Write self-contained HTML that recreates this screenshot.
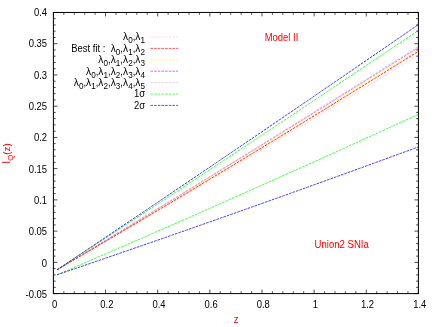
<!DOCTYPE html>
<html><head><meta charset="utf-8"><title>plot</title>
<style>html,body{margin:0;padding:0;background:#fff;}svg{display:block;}text{font-family:"Liberation Sans",sans-serif;}</style></head><body>
<svg width="436" height="327" viewBox="0 0 436 327" style="will-change:transform">
<rect x="0" y="0" width="436" height="327" fill="#fff"/>
<path d="M53.40 293.60v-4.00M53.40 12.45v4.00M63.83 293.60v-2.30M63.83 12.45v2.30M74.26 293.60v-2.30M74.26 12.45v2.30M84.69 293.60v-2.30M84.69 12.45v2.30M95.11 293.60v-2.30M95.11 12.45v2.30M105.54 293.60v-4.00M105.54 12.45v4.00M115.97 293.60v-2.30M115.97 12.45v2.30M126.40 293.60v-2.30M126.40 12.45v2.30M136.83 293.60v-2.30M136.83 12.45v2.30M147.26 293.60v-2.30M147.26 12.45v2.30M157.69 293.60v-4.00M157.69 12.45v4.00M168.11 293.60v-2.30M168.11 12.45v2.30M178.54 293.60v-2.30M178.54 12.45v2.30M188.97 293.60v-2.30M188.97 12.45v2.30M199.40 293.60v-2.30M199.40 12.45v2.30M209.83 293.60v-4.00M209.83 12.45v4.00M220.26 293.60v-2.30M220.26 12.45v2.30M230.69 293.60v-2.30M230.69 12.45v2.30M241.11 293.60v-2.30M241.11 12.45v2.30M251.54 293.60v-2.30M251.54 12.45v2.30M261.97 293.60v-4.00M261.97 12.45v4.00M272.40 293.60v-2.30M272.40 12.45v2.30M282.83 293.60v-2.30M282.83 12.45v2.30M293.26 293.60v-2.30M293.26 12.45v2.30M303.69 293.60v-2.30M303.69 12.45v2.30M314.11 293.60v-4.00M314.11 12.45v4.00M324.54 293.60v-2.30M324.54 12.45v2.30M334.97 293.60v-2.30M334.97 12.45v2.30M345.40 293.60v-2.30M345.40 12.45v2.30M355.83 293.60v-2.30M355.83 12.45v2.30M366.26 293.60v-4.00M366.26 12.45v4.00M376.69 293.60v-2.30M376.69 12.45v2.30M387.11 293.60v-2.30M387.11 12.45v2.30M397.54 293.60v-2.30M397.54 12.45v2.30M407.97 293.60v-2.30M407.97 12.45v2.30M418.40 293.60v-4.00M418.40 12.45v4.00M53.40 293.60h4.00M418.40 293.60h-4.00M53.40 287.35h2.30M418.40 287.35h-2.30M53.40 281.10h2.30M418.40 281.10h-2.30M53.40 274.86h2.30M418.40 274.86h-2.30M53.40 268.61h2.30M418.40 268.61h-2.30M53.40 262.36h4.00M418.40 262.36h-4.00M53.40 256.11h2.30M418.40 256.11h-2.30M53.40 249.87h2.30M418.40 249.87h-2.30M53.40 243.62h2.30M418.40 243.62h-2.30M53.40 237.37h2.30M418.40 237.37h-2.30M53.40 231.12h4.00M418.40 231.12h-4.00M53.40 224.87h2.30M418.40 224.87h-2.30M53.40 218.63h2.30M418.40 218.63h-2.30M53.40 212.38h2.30M418.40 212.38h-2.30M53.40 206.13h2.30M418.40 206.13h-2.30M53.40 199.88h4.00M418.40 199.88h-4.00M53.40 193.64h2.30M418.40 193.64h-2.30M53.40 187.39h2.30M418.40 187.39h-2.30M53.40 181.14h2.30M418.40 181.14h-2.30M53.40 174.89h2.30M418.40 174.89h-2.30M53.40 168.64h4.00M418.40 168.64h-4.00M53.40 162.40h2.30M418.40 162.40h-2.30M53.40 156.15h2.30M418.40 156.15h-2.30M53.40 149.90h2.30M418.40 149.90h-2.30M53.40 143.65h2.30M418.40 143.65h-2.30M53.40 137.41h4.00M418.40 137.41h-4.00M53.40 131.16h2.30M418.40 131.16h-2.30M53.40 124.91h2.30M418.40 124.91h-2.30M53.40 118.66h2.30M418.40 118.66h-2.30M53.40 112.41h2.30M418.40 112.41h-2.30M53.40 106.17h4.00M418.40 106.17h-4.00M53.40 99.92h2.30M418.40 99.92h-2.30M53.40 93.67h2.30M418.40 93.67h-2.30M53.40 87.42h2.30M418.40 87.42h-2.30M53.40 81.18h2.30M418.40 81.18h-2.30M53.40 74.93h4.00M418.40 74.93h-4.00M53.40 68.68h2.30M418.40 68.68h-2.30M53.40 62.43h2.30M418.40 62.43h-2.30M53.40 56.18h2.30M418.40 56.18h-2.30M53.40 49.94h2.30M418.40 49.94h-2.30M53.40 43.69h4.00M418.40 43.69h-4.00M53.40 37.44h2.30M418.40 37.44h-2.30M53.40 31.19h2.30M418.40 31.19h-2.30M53.40 24.95h2.30M418.40 24.95h-2.30M53.40 18.70h2.30M418.40 18.70h-2.30M53.40 12.45h4.00M418.40 12.45h-4.00" stroke="#000" stroke-width="0.7" fill="none"/>
<path d="M57.00 269.80Q237.70 165.35 418.40 55.30" stroke="#ffc8c8" stroke-width="0.7" stroke-dasharray="2.65 1.02" fill="none"/>
<path d="M57.00 269.80Q237.70 162.50 418.40 49.60" stroke="#ffff00" stroke-width="0.66" stroke-dasharray="2.65 1.02" fill="none"/>
<path d="M57.00 269.80Q237.70 161.00 418.40 47.60" stroke="#ff00ff" stroke-width="0.62" stroke-dasharray="2.65 1.02" fill="none"/>
<path d="M57.00 269.80Q237.70 160.50 418.40 46.40" stroke="#c0c0c0" stroke-width="0.75" stroke-dasharray="2.65 1.02" fill="none"/>
<path d="M57.00 269.80Q237.70 164.15 418.40 51.30" stroke="#ff0000" stroke-width="0.85" stroke-dasharray="2.65 1.02" fill="none"/>
<path d="M57.00 269.80Q237.70 152.30 418.40 30.40" stroke="#00ff00" stroke-width="0.8" stroke-dasharray="2.65 1.02" fill="none"/>
<path d="M57.00 274.80Q237.70 197.35 418.40 114.30" stroke="#00ff00" stroke-width="0.78" stroke-dasharray="2.65 1.02" fill="none"/>
<path d="M57.00 269.80Q237.70 149.20 418.40 24.60" stroke="#0000ff" stroke-width="0.8" stroke-dasharray="2.65 1.02" fill="none"/>
<path d="M57.00 274.80Q237.70 213.25 418.40 146.90" stroke="#0000ff" stroke-width="0.78" stroke-dasharray="2.65 1.02" fill="none"/>
<rect x="53.4" y="12.45" width="365.00" height="281.15" fill="none" stroke="#000" stroke-width="1.0"/>
<g font-size="11.0" fill="#000">
<text transform="translate(54.70 307.9) scale(0.86 1)" text-anchor="middle">0</text>
<text transform="translate(106.84 307.9) scale(0.86 1)" text-anchor="middle">0.2</text>
<text transform="translate(158.99 307.9) scale(0.86 1)" text-anchor="middle">0.4</text>
<text transform="translate(211.13 307.9) scale(0.86 1)" text-anchor="middle">0.6</text>
<text transform="translate(263.27 307.9) scale(0.86 1)" text-anchor="middle">0.8</text>
<text transform="translate(315.41 307.9) scale(0.86 1)" text-anchor="middle">1</text>
<text transform="translate(367.56 307.9) scale(0.86 1)" text-anchor="middle">1.2</text>
<text transform="translate(419.70 307.9) scale(0.86 1)" text-anchor="middle">1.4</text>
<text transform="translate(47.1 298.20) scale(0.86 1)" text-anchor="end">-0.05</text>
<text transform="translate(47.1 266.83) scale(0.86 1)" text-anchor="end">0</text>
<text transform="translate(47.1 235.46) scale(0.86 1)" text-anchor="end">0.05</text>
<text transform="translate(47.1 204.09) scale(0.86 1)" text-anchor="end">0.1</text>
<text transform="translate(47.1 172.72) scale(0.86 1)" text-anchor="end">0.15</text>
<text transform="translate(47.1 141.35) scale(0.86 1)" text-anchor="end">0.2</text>
<text transform="translate(47.1 109.98) scale(0.86 1)" text-anchor="end">0.25</text>
<text transform="translate(47.1 78.61) scale(0.86 1)" text-anchor="end">0.3</text>
<text transform="translate(47.1 47.24) scale(0.86 1)" text-anchor="end">0.35</text>
<text transform="translate(47.1 15.87) scale(0.86 1)" text-anchor="end">0.4</text>
</g>
<g font-size="11.0" fill="#000">
<text transform="translate(145.0 40.40) scale(0.86 1)" text-anchor="end" xml:space="preserve"><tspan font-size="11.8" letter-spacing="0.1">λ</tspan><tspan font-size="9.46" dy="3.0">0</tspan><tspan dy="-3.0">,</tspan><tspan font-size="11.8" letter-spacing="0.1">λ</tspan><tspan font-size="9.46" dy="3.0">1</tspan><tspan dy="-3.0"></tspan></text>
<text transform="translate(145.0 51.80) scale(0.86 1)" text-anchor="end" xml:space="preserve">Best fit :  <tspan font-size="11.8" letter-spacing="0.1">λ</tspan><tspan font-size="9.46" dy="3.0">0</tspan><tspan dy="-3.0">,</tspan><tspan font-size="11.8" letter-spacing="0.1">λ</tspan><tspan font-size="9.46" dy="3.0">1</tspan><tspan dy="-3.0">,</tspan><tspan font-size="11.8" letter-spacing="0.1">λ</tspan><tspan font-size="9.46" dy="3.0">2</tspan><tspan dy="-3.0"></tspan></text>
<text transform="translate(145.0 63.20) scale(0.86 1)" text-anchor="end" xml:space="preserve"><tspan font-size="11.8" letter-spacing="0.1">λ</tspan><tspan font-size="9.46" dy="3.0">0</tspan><tspan dy="-3.0">,</tspan><tspan font-size="11.8" letter-spacing="0.1">λ</tspan><tspan font-size="9.46" dy="3.0">1</tspan><tspan dy="-3.0">,</tspan><tspan font-size="11.8" letter-spacing="0.1">λ</tspan><tspan font-size="9.46" dy="3.0">2</tspan><tspan dy="-3.0">,</tspan><tspan font-size="11.8" letter-spacing="0.1">λ</tspan><tspan font-size="9.46" dy="3.0">3</tspan><tspan dy="-3.0"></tspan></text>
<text transform="translate(145.0 74.60) scale(0.86 1)" text-anchor="end" xml:space="preserve"><tspan font-size="11.8" letter-spacing="0.1">λ</tspan><tspan font-size="9.46" dy="3.0">0</tspan><tspan dy="-3.0">,</tspan><tspan font-size="11.8" letter-spacing="0.1">λ</tspan><tspan font-size="9.46" dy="3.0">1</tspan><tspan dy="-3.0">,</tspan><tspan font-size="11.8" letter-spacing="0.1">λ</tspan><tspan font-size="9.46" dy="3.0">2</tspan><tspan dy="-3.0">,</tspan><tspan font-size="11.8" letter-spacing="0.1">λ</tspan><tspan font-size="9.46" dy="3.0">3</tspan><tspan dy="-3.0">,</tspan><tspan font-size="11.8" letter-spacing="0.1">λ</tspan><tspan font-size="9.46" dy="3.0">4</tspan><tspan dy="-3.0"></tspan></text>
<text transform="translate(145.0 86.00) scale(0.86 1)" text-anchor="end" xml:space="preserve"><tspan font-size="11.8" letter-spacing="0.1">λ</tspan><tspan font-size="9.46" dy="3.0">0</tspan><tspan dy="-3.0">,</tspan><tspan font-size="11.8" letter-spacing="0.1">λ</tspan><tspan font-size="9.46" dy="3.0">1</tspan><tspan dy="-3.0">,</tspan><tspan font-size="11.8" letter-spacing="0.1">λ</tspan><tspan font-size="9.46" dy="3.0">2</tspan><tspan dy="-3.0">,</tspan><tspan font-size="11.8" letter-spacing="0.1">λ</tspan><tspan font-size="9.46" dy="3.0">3</tspan><tspan dy="-3.0">,</tspan><tspan font-size="11.8" letter-spacing="0.1">λ</tspan><tspan font-size="9.46" dy="3.0">4</tspan><tspan dy="-3.0">,</tspan><tspan font-size="11.8" letter-spacing="0.1">λ</tspan><tspan font-size="9.46" dy="3.0">5</tspan><tspan dy="-3.0"></tspan></text>
<text transform="translate(145.0 97.40) scale(0.86 1)" text-anchor="end" xml:space="preserve">1σ</text>
<text transform="translate(145.0 108.80) scale(0.86 1)" text-anchor="end" xml:space="preserve">2σ</text>
</g>
<path d="M150.4 37.00H178.1" stroke="#ffc8c8" stroke-width="0.66" stroke-dasharray="2.6 1.07" fill="none"/>
<path d="M150.4 48.40H178.1" stroke="#ff0000" stroke-width="0.66" stroke-dasharray="2.6 1.07" fill="none"/>
<path d="M150.4 59.80H178.1" stroke="#ffff00" stroke-width="0.66" stroke-dasharray="2.6 1.07" fill="none"/>
<path d="M150.4 71.20H178.1" stroke="#ff00ff" stroke-width="0.66" stroke-dasharray="2.6 1.07" fill="none"/>
<path d="M150.4 82.60H178.1" stroke="#c8c8c8" stroke-width="0.66" stroke-dasharray="2.6 1.07" fill="none"/>
<path d="M150.4 94.00H178.1" stroke="#00ff00" stroke-width="0.66" stroke-dasharray="2.6 1.07" fill="none"/>
<path d="M150.4 105.40H178.1" stroke="#0000ff" stroke-width="0.66" stroke-dasharray="2.6 1.07" fill="none"/>
<g font-size="11.0" fill="#ff0000">
<text transform="translate(264.7 41.3) scale(0.86 1)">Model II</text>
<text transform="translate(314.5 248.1) scale(0.872 1)">Union2 SNIa</text>
<text transform="translate(236.1 322.6) scale(0.86 1)" text-anchor="middle">z</text>
<text font-size="9.8" transform="translate(10.1 163.7) rotate(-90)"><tspan font-size="10.5">I</tspan><tspan font-size="7.9" dy="2.8">Q</tspan><tspan dy="-2.8">(z)</tspan></text>
</g>
</svg></body></html>
